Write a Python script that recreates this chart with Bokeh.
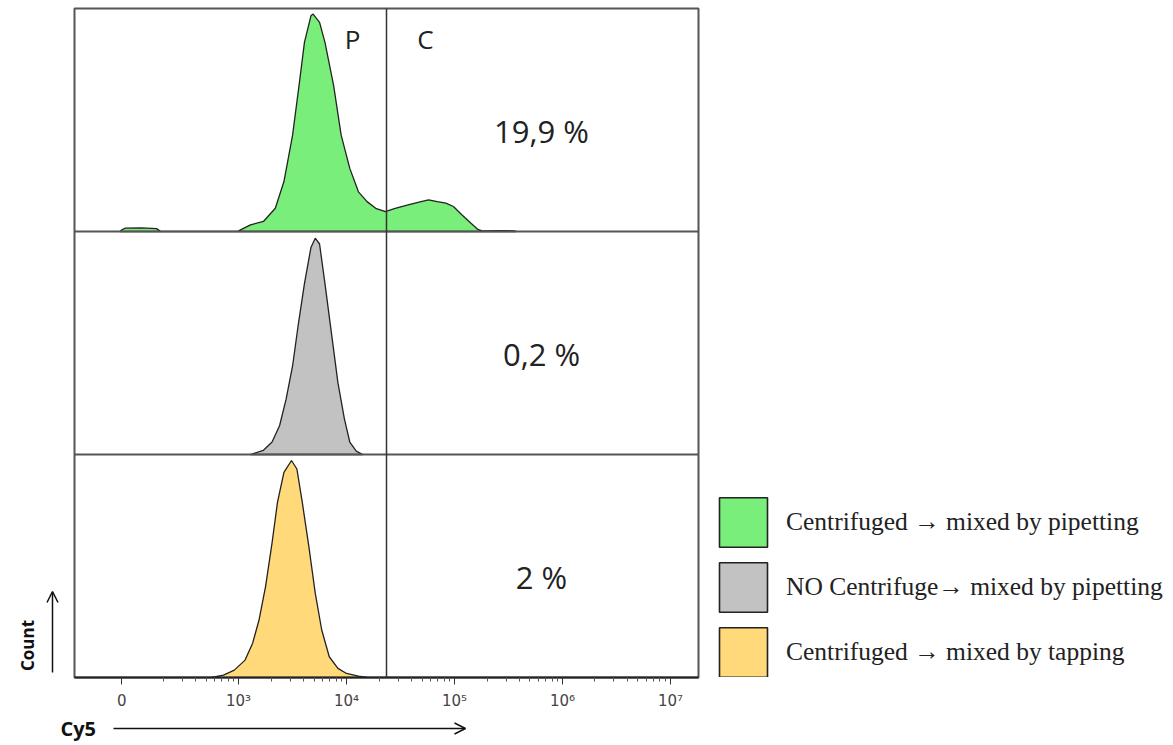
import math
from bokeh.plotting import figure
from bokeh.layouts import column, row
from bokeh.models import (Span, Label, Legend, LegendItem, FixedTicker, Arrow, OpenHead)
from bokeh.embed import file_html
from bokeh.resources import INLINE

# Channel position on the display scale (decades; "0" sits at 1.917)
green_x = [1.90, 1.92, 1.95, 2.10, 2.24, 2.28, 2.99, 3.00, 3.11, 3.23, 3.34, 3.42, 3.50, 3.56,
           3.61, 3.67, 3.69, 3.75, 3.80, 3.88, 3.95, 4.03, 4.11, 4.19, 4.27, 4.36, 4.45, 4.57,
           4.69, 4.76, 4.84, 4.92, 4.99, 5.07, 5.15, 5.22, 5.26, 5.40, 5.56, 5.57]
green_y = [0.0, 0.008, 0.015, 0.016, 0.013, 0.0, 0.0, 0.003, 0.030, 0.045, 0.104, 0.224, 0.432, 0.655,
           0.848, 0.967, 0.975, 0.938, 0.848, 0.655, 0.432, 0.283, 0.178, 0.134, 0.104, 0.089, 0.104, 0.119,
           0.134, 0.142, 0.134, 0.127, 0.112, 0.074, 0.038, 0.008, 0.003, 0.004, 0.003, 0.0]

grey_x = [3.11, 3.23, 3.31, 3.38, 3.44, 3.50, 3.55, 3.61, 3.67, 3.71, 3.75, 3.80, 3.86, 3.92,
          3.98, 4.03, 4.09, 4.15]
grey_y = [0.0, 0.019, 0.056, 0.130, 0.248, 0.397, 0.573, 0.766, 0.928, 0.970, 0.944, 0.766, 0.544, 0.322,
          0.160, 0.056, 0.015, 0.0]

yellow_x = [2.75, 2.86, 2.96, 3.06, 3.13, 3.19, 3.25, 3.31, 3.36, 3.42, 3.49, 3.54, 3.59, 3.65,
            3.71, 3.77, 3.84, 3.92, 4.00, 4.11, 4.19]
yellow_y = [0.0, 0.011, 0.033, 0.078, 0.154, 0.259, 0.409, 0.604, 0.785, 0.920, 0.973, 0.935, 0.785, 0.590,
            0.378, 0.213, 0.093, 0.041, 0.018, 0.006, 0.0]

labels = ["Centrifuged \u2192 mixed by pipetting",
          "NO Centrifuge\u2192 mixed by pipetting",
          "Centrifuged \u2192 mixed by tapping"]
percents = ["19,9 %", "0,2 %", "2 %"]
colors = ["#7AEE7A", "#C2C2C2", "#FFD97A"]
panel_offsets = [2, 1, 0]

tick_pos = [1.917, 3, 4, 5, 6, 7]
tick_labels = ["0", "10\u00b3", "10\u2074", "10\u2075", "10\u2076", "10\u2077"]
gate = 4.37

series_x = [green_x, grey_x, yellow_x]
series_y = [green_y, grey_y, yellow_y]

# ---------------- main histogram panel ----------------
p = figure(width=627, height=712, x_range=(1.48, 7.26), y_range=(0, 3),
           output_backend="svg", toolbar_location=None,
           min_border_left=1, min_border_right=2, min_border_top=8, min_border_bottom=35)
p.grid.visible = False
p.yaxis.visible = False
p.outline_line_color = "#555555"
p.outline_line_width = 2

for xs, ys, c, off in zip(series_x, series_y, colors, panel_offsets):
    p.patch(xs, [off + v for v in ys], fill_color=c, line_color="#222222", line_width=1.3)

for yb in [1, 2]:
    p.add_layout(Span(location=yb, dimension="width", line_color="#555555", line_width=2))
p.add_layout(Span(location=gate, dimension="height", line_color="#333333", line_width=1.5))

minor = [d + math.log10(k) for d in range(2, 7) for k in range(2, 10)]
p.xaxis.ticker = FixedTicker(ticks=tick_pos, minor_ticks=minor)
p.xaxis.major_label_overrides = {t: l for t, l in zip(tick_pos, tick_labels)}
p.xaxis.axis_line_width = 2
p.xaxis.axis_line_color = "#222222"
p.xaxis.major_tick_in = 0
p.xaxis.major_tick_out = 7
p.xaxis.minor_tick_in = 0
p.xaxis.minor_tick_out = 4
p.xaxis.major_tick_line_color = "#333333"
p.xaxis.minor_tick_line_color = "#555555"
p.xaxis.major_label_standoff = 7
p.xaxis.major_label_text_font = "DejaVu Sans"
p.xaxis.major_label_text_font_size = "15px"
p.xaxis.major_label_text_color = "#444444"

for txt, off in zip(percents, panel_offsets):
    p.add_layout(Label(x=5.806, y=off + 0.45, text=txt, text_align="center", text_baseline="middle",
                       text_font="Open Sans", text_font_size="31px", text_color="#222222"))
for txt, xx in [("P", 4.056), ("C", 4.73)]:
    p.add_layout(Label(x=xx, y=2.865, text=txt, text_align="center", text_baseline="middle",
                       text_font="Open Sans", text_font_size="26px", text_color="#222222"))

# ---------------- legend strip (its frame is aligned with the main frame: y 8..677) ----------------
lg = figure(width=473, height=712, x_range=(0, 1), y_range=(0, 1),
            output_backend="svg", toolbar_location=None,
            min_border_left=0, min_border_right=0, min_border_top=8, min_border_bottom=35)
lg.axis.visible = False
lg.grid.visible = False
lg.outline_line_color = None
# legend-only copies of the series (their data lie outside this strip's ranges, so only swatches show)
swatches = [lg.patch(xs, [off + v for v in ys], fill_color=c, line_color="#222222", line_width=1.6)
            for xs, ys, c, off in zip(series_x, series_y, colors, panel_offsets)]
legend = Legend(items=[LegendItem(label=l, renderers=[r]) for l, r in zip(labels, swatches)],
                location=(13, -6), padding=0, margin=0, border_line_color=None,
                background_fill_alpha=0, glyph_width=60, glyph_height=62, spacing=3,
                label_standoff=13, label_text_font="Liberation Serif",
                label_text_font_size="25.5px", label_text_color="#222222")
lg.add_layout(legend)

# ---------------- left strip: Count + arrow (image-pixel coordinates, frame y 8..677) ----------------
lf = figure(width=73, height=712, x_range=(0, 73), y_range=(677, 8),
            output_backend="svg", toolbar_location=None,
            min_border_left=0, min_border_right=0, min_border_top=8, min_border_bottom=35)
lf.axis.visible = False
lf.grid.visible = False
lf.outline_line_color = None
lf.add_layout(Label(x=27, y=645, text="Count", angle=math.pi / 2, text_align="center",
                    text_baseline="middle", text_font="Open Sans", text_font_style="bold",
                    text_font_size="17px", text_color="#111111"))
lf.add_layout(Arrow(end=OpenHead(size=11, line_width=1.5, line_color="#111111"),
                    x_start=52, y_start=672, x_end=52, y_end=591,
                    line_width=1.5, line_color="#111111"))

# ---------------- bottom strip: Cy5 + arrow ----------------
bf = figure(width=1173, height=33, x_range=(0, 1173), y_range=(745, 712),
            output_backend="svg", toolbar_location=None,
            min_border_left=0, min_border_right=0, min_border_top=0, min_border_bottom=0)
bf.axis.visible = False
bf.grid.visible = False
bf.outline_line_color = None
bf.add_layout(Label(x=60, y=728, text="Cy5", text_align="left", text_baseline="middle",
                    text_font="Open Sans", text_font_style="bold", text_font_size="20px",
                    text_color="#111111"))
bf.add_layout(Arrow(end=OpenHead(size=11, line_width=1.5, line_color="#111111"),
                    x_start=113, y_start=728, x_end=465, y_end=728,
                    line_width=1.5, line_color="#111111"))

layout = column(row(lf, p, lg, spacing=0), bf, spacing=0)
open("out.html", "w").write(file_html(layout, INLINE))
